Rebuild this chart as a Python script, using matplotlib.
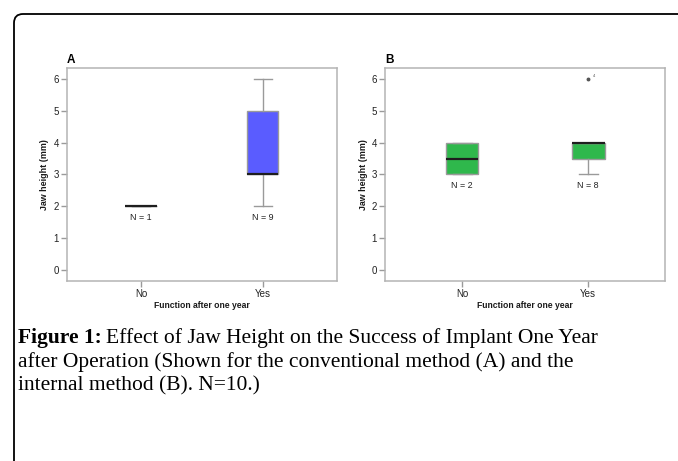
import matplotlib
matplotlib.use("Agg")
import matplotlib.pyplot as plt
from matplotlib.patches import FancyBboxPatch
from matplotlib.transforms import IdentityTransform

# data (box plot statistics per group)
groups = ["No", "Yes"]
a_q1 = [2, 3]
a_med = [2, 3]
a_q3 = [2, 5]
a_lo = [2, 2]
a_hi = [2, 6]
a_n = [1, 9]
a_fliers = [[], []]

b_q1 = [3, 3.5]
b_med = [3.5, 4]
b_q3 = [4, 4]
b_lo = [3, 3]
b_hi = [4, 4]
b_n = [2, 8]
b_fliers = [[], [6]]
b_flier_ids = ["", "4"]

yticks = [0, 1, 2, 3, 4, 5, 6]

plt.rcParams['font.family'] = ['Liberation Sans', 'DejaVu Sans']

fig = plt.figure(figsize=(6.78, 4.61), dpi=100)

# rounded frame around the whole figure panel
frame = FancyBboxPatch((14, -30), 900, 461 - 14 + 30,
                       boxstyle="round,pad=0,rounding_size=9",
                       transform=IdentityTransform(), fill=False,
                       edgecolor="black", linewidth=1.3)
fig.patches.append(frame)

grey = "#9a9a9a"


def draw_panel(ax, q1, med, q3, lo, hi, n, fliers, color, label):
    stats = []
    for i in range(len(groups)):
        stats.append(dict(q1=q1[i], med=med[i], q3=q3[i], whislo=lo[i],
                          whishi=hi[i], fliers=fliers[i], label=groups[i]))
    ax.bxp(stats, positions=[1, 2], widths=0.26, capwidths=0.15,
           patch_artist=True, showfliers=True,
           boxprops=dict(facecolor=color, edgecolor=grey, linewidth=1),
           medianprops=dict(color="#1e1e1e", linewidth=1.6),
           whiskerprops=dict(color=grey, linewidth=1),
           capprops=dict(color=grey, linewidth=1),
           flierprops=dict(marker="o", markersize=1.8, markerfacecolor="#555555",
                           markeredgecolor="#555555"))
    for i in range(len(groups)):
        ax.text(i + 1, lo[i] - 0.2, "N = %d" % n[i], ha="center", va="top",
                fontsize=6.4, color="#222222")
    ax.set_xlim(0.39, 2.61)
    ax.set_ylim(-0.35, 6.35)
    ax.set_yticks(yticks)
    ax.set_xticks([1, 2])
    ax.set_xticklabels(groups)
    for s in ax.spines.values():
        s.set_color("#b4b4b4")
        s.set_linewidth(1.1)
    ax.tick_params(axis="both", colors=grey, labelcolor="#222222",
                   labelsize=7, length=4.5, width=1, pad=1.2)
    ax.set_ylabel("Jaw height (mm)", fontsize=6.4, fontweight="bold",
                  color="#1a1a1a", labelpad=3)
    ax.set_xlabel("Function after one year", fontsize=6.2, fontweight="bold",
                  color="#1a1a1a", labelpad=1.5)
    ax.text(0.0, 1.01, label, transform=ax.transAxes, fontsize=8.5,
            fontweight="bold", ha="left", va="bottom")


ax1 = fig.add_axes([0.0988, 0.3905, 0.398, 0.462])
draw_panel(ax1, a_q1, a_med, a_q3, a_lo, a_hi, a_n, a_fliers, "#5a5cff", "A")

ax2 = fig.add_axes([0.568, 0.3905, 0.413, 0.462])
draw_panel(ax2, b_q1, b_med, b_q3, b_lo, b_hi, b_n, b_fliers, "#2fb84c", "B")
for i in range(len(groups)):
    for v in b_fliers[i]:
        ax2.text(i + 1 + 0.04, v + 0.05, b_flier_ids[i], fontsize=3,
                 color="#555555", ha="left", va="bottom")

# caption
serif = "Liberation Serif"
cap_size = 15.5
fig.canvas.draw()
r = fig.canvas.get_renderer()
t0 = fig.text(18 / 678, 1 - 338 / 461, "Figure 1:", fontsize=cap_size,
              fontweight="bold", family=serif, va="center", ha="left")
bb = t0.get_window_extent(renderer=r)
fig.text((bb.x1 + 4) / 678, 1 - 338 / 461,
         "Effect of Jaw Height on the Success of Implant One Year",
         fontsize=cap_size, family=serif, va="center", ha="left")
fig.text(18 / 678, 1 - 362 / 461,
         "after Operation (Shown for the conventional method (A) and the",
         fontsize=cap_size, family=serif, va="center", ha="left")
fig.text(18 / 678, 1 - 386 / 461, "internal method (B). N=10.)",
         fontsize=cap_size, family=serif, va="center", ha="left")

plt.savefig("out.png", dpi=100)
